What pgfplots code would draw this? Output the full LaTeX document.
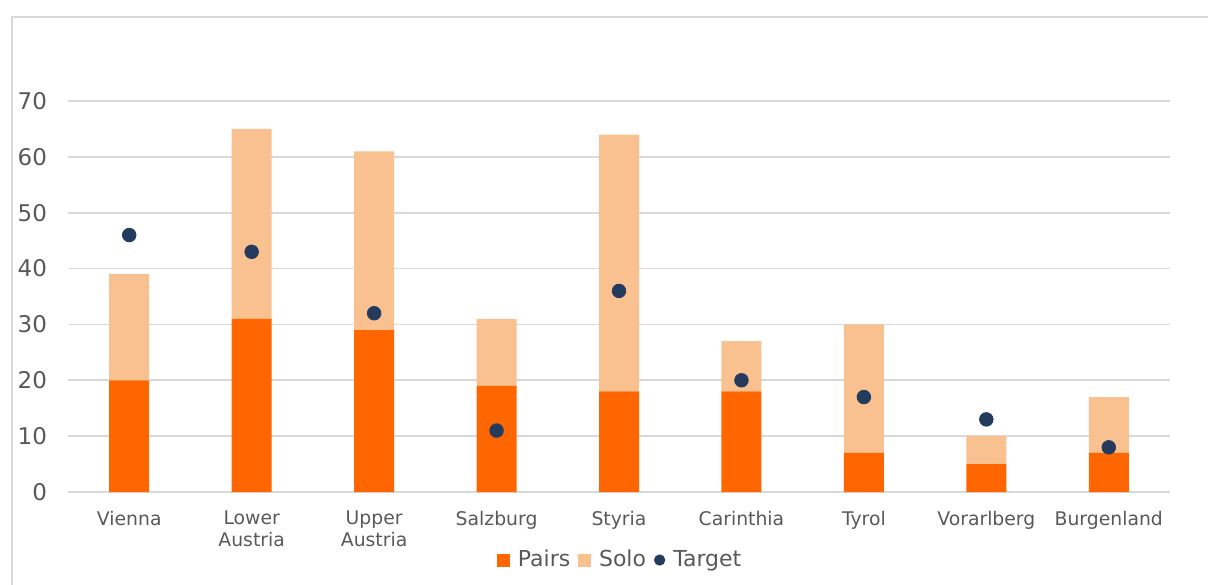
\documentclass[border=0pt]{standalone}
\usepackage{pgfplots}
\pgfplotsset{compat=1.18}
\usepackage{fontspec}
\setmainfont{DejaVu Sans}

\definecolor{pairs}{HTML}{FF6600}
\definecolor{solo}{HTML}{F9C18F}
\definecolor{target}{HTML}{243B5E}
\definecolor{labelgray}{HTML}{595959}
\definecolor{linegray}{HTML}{D9D9D9}

% Regional counts: pairs, solo and target
\pgfplotstableread{
x pairs solo target
0 20 19 46
1 31 34 43
2 29 32 32
3 19 12 11
4 18 46 36
5 18  9 20
6  7 23 17
7  5  5 13
8  7 10  8
}\regiondata

\pgfplotsset{
  regionaxis/.style={
    at={(34pt,46pt)}, anchor=south west,
    scale only axis, width=551pt, height=195.5pt,
    xmin=-0.5, xmax=8.5, ymin=0, ymax=70,
  },
}

\begin{document}
\begin{tikzpicture}
\useasboundingbox (0,0) rectangle (604pt,292pt);
\draw[linegray, line width=0.8pt] (6pt,-1pt) -- (6pt,283.5pt) -- (605pt,283.5pt);

\begin{axis}[
  regionaxis,
  ybar stacked, bar width=20pt,
  axis x line*=bottom, axis y line*=left,
  y axis line style={draw=none},
  x axis line style={linegray, line width=0.8pt},
  tick style={draw=none},
  ymajorgrids, grid style={linegray, line width=0.8pt},
  ytick={0,10,...,70},
  xtick=data,
  xticklabels={Vienna,{Lower\\Austria},{Upper\\Austria},Salzburg,Styria,Carinthia,Tyrol,Vorarlberg,Burgenland},
  /pgf/number format/assume math mode=true,
  yticklabel style={font=\fontsize{11.5}{13}\selectfont, text=labelgray, xshift=-7pt},
  xticklabel style={font=\fontsize{9.4}{11}\selectfont, text=labelgray, align=center, anchor=north, yshift=-6pt},
]
\addplot[fill=pairs, draw=none] table[x=x, y=pairs] {\regiondata};
\addplot[fill=solo, draw=none] table[x=x, y=solo] {\regiondata};
\end{axis}

\begin{axis}[
  regionaxis,
  hide axis,
  legend columns=3,
  legend style={at={(0.502,-0.174)}, anchor=center, draw=none, fill=none,
    font=\fontsize{11}{12}\selectfont, text=labelgray,
    column sep=2pt, inner sep=0pt},
]
\addplot[only marks, mark=*, mark size=3.4pt, mark options={fill=target, draw=target}, forget plot]
  table[x=x, y=target] {\regiondata};
\addlegendimage{legend image code/.code={\fill[pairs] (0pt,-3pt) rectangle (6pt,3pt);}}
\addlegendentry{Pairs\hspace{7.5pt}}
\addlegendimage{legend image code/.code={\fill[solo] (0pt,-3pt) rectangle (6pt,3pt);}}
\addlegendentry{Solo\hspace{7.5pt}}
\addlegendimage{legend image code/.code={\fill[target] (3pt,0pt) circle (2.6pt);}}
\addlegendentry{Target}
\end{axis}
\end{tikzpicture}
\end{document}
